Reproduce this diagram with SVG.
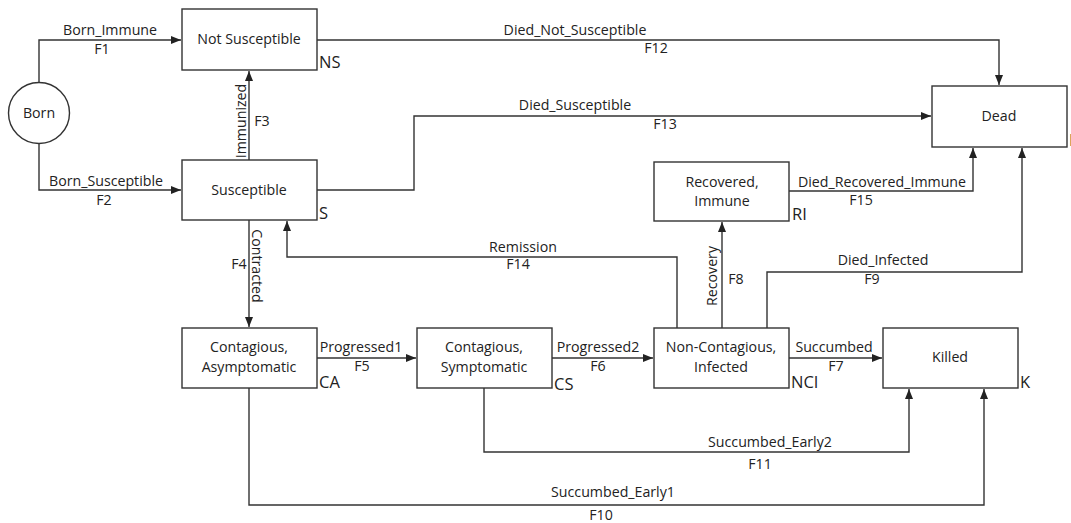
<svg xmlns="http://www.w3.org/2000/svg" width="1071" height="523" viewBox="0 0 1071 523">
<style>
.box{fill:#fff;stroke:#333;stroke-width:1.4}
.ln{fill:none;stroke:#333;stroke-width:1.4}
text{font-family:"Open Sans","Noto Sans",sans-serif;font-size:14.2px;fill:#222}
.c{text-anchor:middle}
.tag{font-size:16.5px}
</style>
<defs>
<marker id="ah" viewBox="0 0 10 10" refX="10" refY="5" markerWidth="10" markerHeight="10" markerUnits="userSpaceOnUse" orient="auto">
<path d="M0,1 L10,5 L0,9 z" fill="#222"/>
</marker>
</defs>
<rect width="1071" height="523" fill="#fff"/>
<g id="connectors">
<path class="ln" d="M39,83 V40 H181" marker-end="url(#ah)"/>
<path class="ln" d="M39,144 V190 H181" marker-end="url(#ah)"/>
<path class="ln" d="M249,160 V71" marker-end="url(#ah)"/>
<path class="ln" d="M317,40 H999 V85" marker-end="url(#ah)"/>
<path class="ln" d="M317,190 H414 V116 H931" marker-end="url(#ah)"/>
<path class="ln" d="M789,191 H973 V148" marker-end="url(#ah)"/>
<path class="ln" d="M767,328 V272 H1022 V148" marker-end="url(#ah)"/>
<path class="ln" d="M722,328 V222" marker-end="url(#ah)"/>
<path class="ln" d="M677,328 V257 H287 V221" marker-end="url(#ah)"/>
<path class="ln" d="M249,220 V327" marker-end="url(#ah)"/>
<path class="ln" d="M317,358 H416" marker-end="url(#ah)"/>
<path class="ln" d="M552,358 H653" marker-end="url(#ah)"/>
<path class="ln" d="M789,358 H882" marker-end="url(#ah)"/>
<path class="ln" d="M484,388 V452 H909 V389" marker-end="url(#ah)"/>
<path class="ln" d="M249,388 V505 H984 V389" marker-end="url(#ah)"/>
<text class="c" x="110" y="35">Born_Immune</text>
<text class="c" x="102" y="54">F1</text>
<text class="c" x="106" y="186">Born_Susceptible</text>
<text class="c" x="104" y="205">F2</text>
<text class="c" transform="translate(246,121) rotate(-90)">Immunized</text>
<text class="c" x="262" y="126">F3</text>
<text class="c" x="575" y="35">Died_Not_Susceptible</text>
<text class="c" x="656" y="53">F12</text>
<text class="c" x="575" y="110">Died_Susceptible</text>
<text class="c" x="665" y="129">F13</text>
<text class="c" x="882" y="187">Died_Recovered_Immune</text>
<text class="c" x="861" y="205">F15</text>
<text class="c" x="883" y="265">Died_Infected</text>
<text class="c" x="872" y="284">F9</text>
<text class="c" transform="translate(717,276) rotate(-90)">Recovery</text>
<text class="c" x="736" y="284">F8</text>
<text class="c" x="523" y="252">Remission</text>
<text class="c" x="518" y="269">F14</text>
<text class="c" transform="translate(252,266) rotate(90)">Contracted</text>
<text class="c" x="239" y="269">F4</text>
<text class="c" x="361" y="352">Progressed1</text>
<text class="c" x="362" y="371">F5</text>
<text class="c" x="598" y="352">Progressed2</text>
<text class="c" x="598" y="371">F6</text>
<text class="c" x="834" y="352">Succumbed</text>
<text class="c" x="836" y="371">F7</text>
<text class="c" x="770" y="447">Succumbed_Early2</text>
<text class="c" x="760" y="469">F11</text>
<text class="c" x="613" y="497">Succumbed_Early1</text>
<text class="c" x="601" y="520">F10</text>
</g>
<g id="born">
<circle cx="39" cy="113" r="30.5" fill="#fff" stroke="#333" stroke-width="1.4"/>
<text class="c" x="39" y="118">Born</text>
</g>
<g id="ns">
<rect class="box" x="182" y="9" width="135" height="61"/>
<text class="c" x="249" y="44">Not Susceptible</text>
<text class="tag" x="319" y="68">NS</text>
</g>
<g id="s">
<rect class="box" x="182" y="160" width="135" height="60"/>
<text class="c" x="249" y="195">Susceptible</text>
<text class="tag" x="319" y="219">S</text>
</g>
<g id="dead">
<rect class="box" x="932" y="86" width="135" height="61"/>
<text class="c" x="999" y="121">Dead</text>
<text class="tag" x="1069" y="146">D</text>
</g>
<g id="ri">
<rect class="box" x="654" y="162" width="135" height="59"/>
<text class="c" x="722" y="187">Recovered,</text>
<text class="c" x="722" y="206">Immune</text>
<text class="tag" x="792" y="220">RI</text>
</g>
<g id="ca">
<rect class="box" x="182" y="328" width="135" height="60"/>
<text class="c" x="249" y="352">Contagious,</text>
<text class="c" x="249" y="372">Asymptomatic</text>
<text class="tag" x="319" y="388">CA</text>
</g>
<g id="cs">
<rect class="box" x="417" y="328" width="135" height="60"/>
<text class="c" x="484" y="352">Contagious,</text>
<text class="c" x="484" y="372">Symptomatic</text>
<text class="tag" x="554" y="390">CS</text>
</g>
<g id="nci">
<rect class="box" x="654" y="328" width="135" height="60"/>
<text class="c" x="721" y="352">Non-Contagious,</text>
<text class="c" x="721" y="372">Infected</text>
<text class="tag" x="791" y="388">NCI</text>
</g>
<g id="killed">
<rect class="box" x="883" y="328" width="135" height="60"/>
<text class="c" x="950" y="362">Killed</text>
<text class="tag" x="1020" y="388">K</text>
</g>
</svg>
